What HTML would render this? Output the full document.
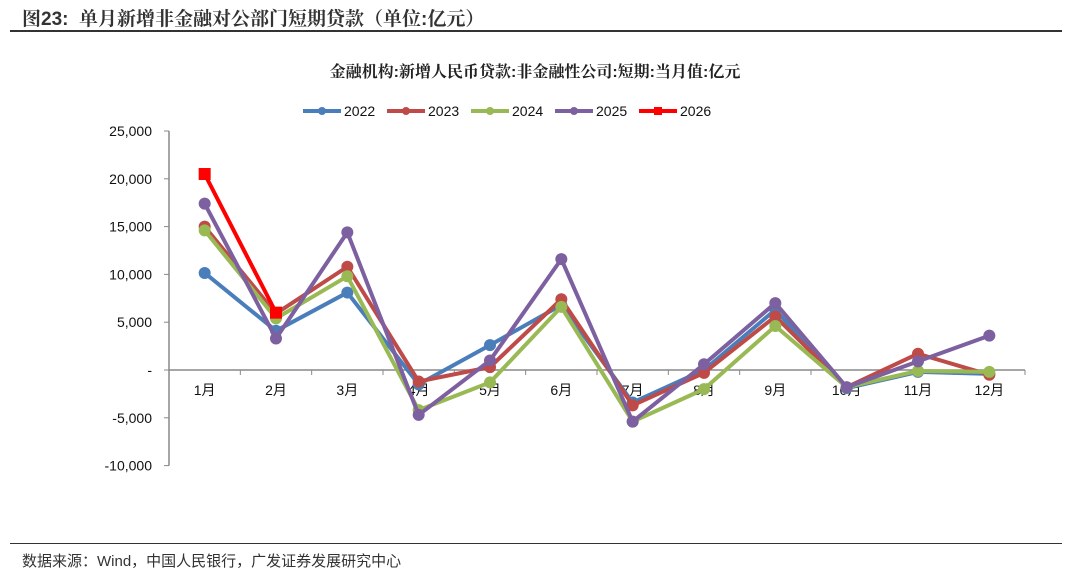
<!DOCTYPE html>
<html><head><meta charset="utf-8"><style>
body{margin:0;width:1080px;height:576px;background:#fff;overflow:hidden;font-family:"Liberation Sans","Noto Serif CJK SC","Noto Sans CJK SC",sans-serif;}
#hdr{position:absolute;left:22px;top:4px;font-size:19px;font-weight:bold;color:#333;font-family:"Liberation Sans","Noto Serif CJK SC",serif;}
#hline{position:absolute;left:10px;top:30px;width:1052px;height:2px;background:#333;}
#fline{position:absolute;left:10px;top:543px;width:1052px;height:1px;background:#333;}
#src{position:absolute;left:22px;top:550px;font-size:15px;color:#333;font-family:"Liberation Sans","Noto Sans CJK SC",sans-serif;}
svg{position:absolute;left:0;top:0}
</style></head><body>
<div id="hdr">图23:&nbsp; 单月新增非金融对公部门短期贷款（单位:亿元）</div>
<div id="hline"></div>
<svg id="chart" width="1080" height="576"></svg>
<div id="fline"></div>
<div id="src">数据来源：Wind，中国人民银行，广发证券发展研究中心</div>
<script>
const categories=["1月","2月","3月","4月","5月","6月","7月","8月","9月","10月","11月","12月"];
const yTicks=[25000,20000,15000,10000,5000,0,-5000,-10000];
const yTickLabels=["25,000","20,000","15,000","10,000","5,000","-","-5,000","-10,000"];
const s2022=[10150,4100,8100,-1500,2600,6800,-3400,0,6300,-1900,-200,-400];
const s2023=[15000,5900,10800,-1200,300,7400,-3700,-300,5600,-1800,1700,-500];
const s2024=[14600,5400,9800,-4200,-1300,6600,-5400,-2000,4600,-1800,-100,-200];
const s2025=[17400,3300,14400,-4700,1000,11600,-5400,600,7000,-1800,900,3600];
const s2026=[20500,6000];
const seriesNames=["2022","2023","2024","2025","2026"];
const seriesColors=["#4a7ebb","#be4b48","#98b954","#7d60a0","#ff0000"];
const seriesData=[s2022,s2023,s2024,s2025,s2026];

const NS="http://www.w3.org/2000/svg";
const svg=document.getElementById('chart');
const X0=169,X1=1025,Y0=370,PXPER=95.6/10000;
const bw=(X1-X0)/categories.length;
const xs=i=>X0+bw*(i+0.5);
const ys=v=>Y0-v*PXPER;
function mk(t,a){const e=document.createElementNS(NS,t);for(const k in a)e.setAttribute(k,a[k]);svg.appendChild(e);return e;}

let t=mk('text',{x:535,y:77,'text-anchor':'middle','font-size':16,'font-weight':'bold',fill:'#222','font-family':'"Liberation Sans","Noto Serif CJK SC",serif'});
t.textContent="金融机构:新增人民币贷款:非金融性公司:短期:当月值:亿元";



let ax=mk('line',{x1:X0,y1:ys(25000),x2:X0,y2:ys(-10000),stroke:'#888','stroke-width':1.5});


yTicks.forEach((v,i)=>{
  const tk=mk('line',{x1:X0-5,y1:ys(v),x2:X0,y2:ys(v),stroke:'#888'});
  
  
  const l=mk('text',{x:X0-17,y:ys(v)+5,'text-anchor':'end','font-size':14,fill:'#111'});
  l.textContent=yTickLabels[i];
  
  
});
let xa=mk('line',{x1:X0,y1:Y0,x2:X1,y2:Y0,stroke:'#888','stroke-width':1.5});


categories.forEach((c,i)=>{
  const tk=mk('line',{x1:X0+bw*(i+1),y1:Y0,x2:X0+bw*(i+1),y2:Y0+5,stroke:'#888'});
  
  
  const l=mk('text',{x:xs(i),y:Y0+25,'text-anchor':'middle','font-size':14,fill:'#111','font-family':'"Liberation Sans","Noto Sans CJK SC",sans-serif'});
  l.textContent=c;
  
  
});
seriesData.forEach((d,si)=>{
  const col=seriesColors[si];
  const p=mk('polyline',{points:d.map((v,i)=>xs(i)+','+ys(v)).join(' '),fill:'none',stroke:col,'stroke-width':4,'stroke-linejoin':'round'});
  
  
  d.forEach((v,i)=>{
    let m;
    if(si===4) m=mk('rect',{x:xs(i)-6,y:ys(v)-6,width:12,height:12,fill:col});
    else m=mk('circle',{cx:xs(i),cy:ys(v),r:6,fill:col});
    
    
  });
});
// legend
const lx=[303,387,471,555,639];
seriesNames.forEach((n,i)=>{
  const g=mk('g',{});
  
  
  const y=111;
  const ln=document.createElementNS(NS,'line');
  ln.setAttribute('x1',lx[i]);ln.setAttribute('x2',lx[i]+38);ln.setAttribute('y1',y);ln.setAttribute('y2',y);
  ln.setAttribute('stroke',seriesColors[i]);ln.setAttribute('stroke-width',4);g.appendChild(ln);
  let m;
  if(i===4){m=document.createElementNS(NS,'rect');m.setAttribute('x',lx[i]+15);m.setAttribute('y',y-4);m.setAttribute('width',8);m.setAttribute('height',8);}
  else{m=document.createElementNS(NS,'circle');m.setAttribute('cx',lx[i]+19);m.setAttribute('cy',y);m.setAttribute('r',4);}
  m.setAttribute('fill',seriesColors[i]);g.appendChild(m);
  const tx=document.createElementNS(NS,'text');
  tx.setAttribute('x',lx[i]+41);tx.setAttribute('y',y+5);tx.setAttribute('font-size',14);tx.setAttribute('fill','#111');
  tx.textContent=n;g.appendChild(tx);
});
</script>
</body></html>
